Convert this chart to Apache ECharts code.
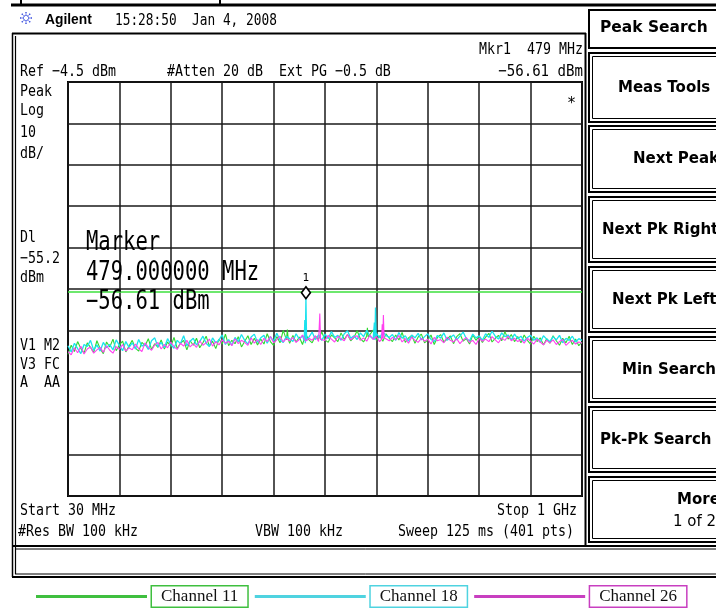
<!DOCTYPE html>
<html><head><meta charset="utf-8">
<script src="https://cdn.jsdelivr.net/npm/echarts/dist/echarts.min.js"></script>
<style>html,body{margin:0;padding:0;background:#fff}#c{width:716px;height:608px}</style>
</head><body><div id="c"></div>
<script>
// ---- sweep settings ----
const startMHz = 30;
const stopMHz = 1000;
const refLevel = -4.5;      // dBm, top graticule line
const dbPerDiv = 10;
const displayLine = -55.2;  // dBm
const markerFreq = 479;     // MHz
const markerLevel = -56.61; // dBm

const seriesNames = ['Channel 11', 'Channel 18', 'Channel 26'];

// ---- noise floor, dBm, evenly spaced from start to stop ----
const noiseCh11 = [
-70.3,-68.1,-69.6,-67.2,-68.9,-70.0,-67.5,-68.6,-69.8,-67.0,
-68.9,-70.1,-67.3,-68.5,-66.6,-69.4,-68.0,-67.1,-69.7,-68.3,
-66.9,-68.8,-69.5,-67.4,-68.2,-66.5,-69.1,-67.7,-68.6,-66.8,
-69.0,-67.3,-68.4,-66.2,-68.9,-67.6,-66.9,-69.2,-67.0,-68.1,
-66.4,-68.7,-67.5,-65.9,-68.3,-67.1,-68.9,-66.6,-67.8,-65.4,
-68.2,-66.9,-67.7,-66.0,-68.5,-67.2,-65.8,-67.9,-66.4,-68.0,
-66.6,-67.8,-65.3,-67.2,-68.1,-66.0,-67.5,-64.5,-66.8,-67.6,
-65.7,-67.3,-66.1,-67.9,-65.4,-66.8,-67.5,-65.9,-66.6,-64.9,
-66.8,-67.4,-65.6,-66.3,-67.2,-65.1,-66.7,-65.5,-67.0,-66.2,
-64.6,-66.5,-67.3,-65.7,-66.1,-64.4,-66.9,-65.8,-67.1,-65.3,
-66.4,-67.2,-65.6,-66.8,-65.0,-67.4,-66.3,-65.7,-67.6,-66.1,
-65.4,-67.5,-66.8,-65.6,-67.9,-66.2,-65.5,-67.3,-66.6,-65.8,
-67.7,-66.0,-65.3,-67.1,-66.5,-67.8,-65.6,-66.9,-65.9,-67.4,
-66.1,-65.2,-67.3,-66.4,-65.7,-67.0,-64.8,-66.6,-65.5,-67.2,
-66.0,-67.5,-65.6,-66.9,-67.8,-65.9,-67.2,-66.3,-68.0,-66.5,
-67.6,-65.8,-67.0,-68.1,-66.4,-67.5,-65.9,-67.9,-66.6,-68.2,
-67.3];
const noiseCh18 = [
-68.2,-69.7,-67.6,-68.9,-70.1,-67.9,-68.4,-66.9,-69.3,-68.0,
-69.5,-67.4,-68.7,-67.9,-69.2,-66.8,-68.1,-69.4,-67.2,-68.6,
-67.5,-69.0,-66.7,-68.3,-67.8,-69.1,-67.0,-66.3,-68.5,-67.4,
-68.7,-66.5,-67.9,-68.8,-66.9,-67.7,-65.8,-68.2,-67.1,-66.4,
-68.0,-67.2,-65.9,-67.6,-68.4,-66.3,-67.5,-66.8,-65.6,-67.9,
-66.7,-68.1,-66.2,-67.3,-65.5,-66.9,-67.8,-66.1,-65.4,-67.4,
-66.3,-65.7,-67.6,-66.0,-67.1,-65.2,-66.8,-67.4,-65.9,-66.5,
-67.2,-65.3,-66.6,-65.8,-67.3,-66.1,-64.9,-66.7,-65.6,-66.9,
-65.4,-66.5,-64.8,-66.2,-65.7,-66.9,-65.3,-64.6,-66.4,-65.8,
-66.7,-65.1,-66.0,-64.5,-65.9,-66.6,-65.2,-66.3,-64.9,-65.7,
-66.2,-65.5,-66.9,-65.0,-66.4,-65.8,-67.1,-65.6,-66.3,-65.2,
-66.8,-66.0,-65.3,-66.7,-67.2,-65.7,-66.4,-65.1,-66.9,-66.2,
-65.6,-66.8,-65.9,-64.9,-66.5,-67.0,-65.4,-66.3,-65.8,-66.9,
-65.3,-66.2,-64.7,-65.9,-66.6,-65.1,-66.0,-65.6,-66.8,-65.4,
-66.5,-65.9,-67.1,-66.2,-65.7,-66.9,-66.3,-67.4,-65.8,-66.6,
-67.2,-66.0,-66.8,-65.7,-67.5,-66.4,-66.9,-65.9,-67.3,-66.5,
-66.9];
const noiseCh26 = [
-69.6,-70.4,-68.7,-69.9,-68.3,-70.2,-69.0,-68.5,-70.0,-69.2,
-68.6,-69.8,-68.2,-69.3,-70.0,-68.4,-69.1,-67.9,-69.5,-68.7,
-69.2,-67.8,-68.9,-69.6,-67.5,-68.6,-69.3,-68.0,-67.4,-69.0,
-67.9,-68.7,-67.3,-68.4,-69.1,-67.6,-68.3,-66.9,-68.5,-67.7,
-68.6,-67.0,-68.1,-67.5,-66.6,-68.3,-67.2,-68.0,-66.8,-67.6,
-67.1,-68.2,-66.5,-67.7,-66.9,-67.4,-68.1,-66.3,-67.6,-66.7,
-67.9,-66.4,-67.2,-66.0,-67.5,-66.8,-65.9,-67.3,-66.5,-67.0,
-66.2,-67.4,-66.7,-65.6,-67.1,-66.4,-66.9,-65.8,-67.2,-66.3,
-66.9,-65.7,-66.6,-67.3,-65.9,-66.5,-67.0,-65.5,-66.8,-66.1,
-65.8,-66.9,-66.3,-67.1,-65.6,-66.7,-66.0,-67.2,-65.9,-66.6,
-67.0,-66.2,-66.8,-65.7,-67.3,-66.5,-67.6,-66.1,-66.9,-67.4,
-66.4,-67.1,-66.6,-67.8,-66.2,-67.0,-66.7,-67.5,-66.1,-66.9,
-67.3,-66.5,-67.7,-66.8,-66.2,-67.4,-66.9,-67.9,-66.4,-67.1,
-66.6,-67.2,-66.0,-66.8,-67.5,-66.3,-66.9,-65.9,-67.0,-66.4,
-67.2,-66.7,-67.6,-66.4,-67.1,-67.8,-66.6,-67.3,-68.0,-66.9,
-67.5,-66.8,-67.9,-67.2,-66.7,-68.1,-67.4,-66.9,-67.8,-67.3,
-67.6];

// ---- narrow spurs, [MHz, dBm] ----
const peaksCh11 = [
  [[442.5,-66.4],[444.0,-64.3],[445.5,-66.6]],
  [[593.5,-65.9],[595.0,-63.9],[596.5,-66.1]]
];
const peaksCh18 = [
  [[475.8,-67.0],[476.9,-62.0],[477.8,-67.6],[479.0,-56.61],[480.3,-67.0]],
  [[606.9,-66.4],[608.2,-62.6],[609.2,-66.8],[610.3,-59.0],[611.6,-66.0]]
];
const peaksCh26 = [
  [[503.8,-67.0],[505.2,-60.4],[506.6,-66.7]],
  [[621.8,-66.6],[623.0,-63.0],[624.0,-66.5],[625.2,-60.8],[626.5,-66.3]]
];

// ---- screen annotations ----
const leftLabels = ['Peak','Log','10','dB/','Dl','−55.2','dBm','V1 M2','V3 FC','A  AA'];
const softkeys = ['Meas Tools','Next Peak','Next Pk Right','Next Pk Left','Min Search','Pk-Pk Search','More'];

// ---- build ----
function buildTrace(noise, groups){
  const step = (stopMHz - startMHz) / (noise.length - 1);
  let pts = noise.map((v, i) => [startMHz + i * step, v]);
  groups.forEach(g => {
    const lo = g[0][0], hi = g[g.length - 1][0];
    pts = pts.filter(p => p[0] < lo || p[0] > hi).concat(g);
  });
  pts.sort((a, b) => a[0] - b[0]);
  return pts.map(p => [p[0] - startMHz, p[1] - refLevel]);
}

const MONO = '"DejaVu Sans Mono", monospace';
const SANS = '"DejaVu Sans", sans-serif';
function txt(x, y, s, o){
  o = o || {};
  return {type:'text', x:x, y:y, scaleX:(o.sx==null?0.83:o.sx), silent:true, z:100,
    style:{text:s, font:(o.bold?'bold ':'') + (o.size||16) + 'px ' + (o.family||MONO),
      fill:o.color||'#000', textAlign:o.align||'left', textVerticalAlign:'middle'}};
}
function ln(x1,y1,x2,y2,w){
  return {type:'line', silent:true, z:90, shape:{x1:x1,y1:y1,x2:x2,y2:y2}, style:{stroke:'#000', lineWidth:w||2}};
}
function rc(x,y,w,h,lw){
  return {type:'rect', silent:true, z:90, shape:{x:x,y:y,width:w,height:h}, style:{fill:'none', stroke:'#000', lineWidth:lw||2}};
}

const g = [];
// outer frames
g.push(ln(11,5,716,5,3), ln(21,0,21,4,2), ln(220,0,220,4,2));
g.push(ln(12,33.5,586,33.5,2), ln(12.5,33,12.5,577,1.5), ln(15.5,36,15.5,574,1.2), ln(585.5,33,585.5,547,2));
g.push(ln(12,546,716,546,2), ln(15,549,716,549,1), ln(15,574,716,574,1), ln(12,577,716,577,2));
// logo
for (let k = 0; k < 8; k++){
  const a = k * Math.PI / 4;
  g.push({type:'line', silent:true, z:90, shape:{x1:26+2*Math.cos(a), y1:18+2*Math.sin(a), x2:26+6*Math.cos(a), y2:18+6*Math.sin(a)},
    style:{stroke:'#3a4fe0', lineWidth:1.4, lineDash:[1.5,1]}});
}
g.push(txt(45, 19.5, 'Agilent', {bold:true, size:15, family:'"Liberation Sans", Arial, sans-serif', sx:0.92}));
g.push(txt(115, 20.5, '15:28:50  Jan 4, 2008', {sx:0.8}));
// header lines
g.push(txt(583, 50, 'Mkr1  479 MHz', {align:'right'}));
g.push(txt(20, 72, 'Ref −4.5 dBm'));
g.push(txt(167, 72, '#Atten 20 dB  Ext PG −0.5 dB'));
g.push(txt(583, 72, '−56.61 dBm', {align:'right', sx:0.88}));
// left panel
const leftY = [92,111,133,154,238,259,278,346,365,383];
leftLabels.forEach((s, i) => g.push(txt(20, leftY[i], s)));
g.push(txt(567, 104, '*', {sx:1, size:15}));
// marker readout
g.push(txt(86, 243, 'Marker', {size:26, sx:0.79}));
g.push(txt(86, 273, '479.000000 MHz', {size:26, sx:0.79}));
g.push(txt(86, 302, '−56.61 dBm', {size:26, sx:0.79}));
// footer
g.push(txt(20, 511, 'Start 30 MHz'));
g.push(txt(577, 511, 'Stop 1 GHz', {align:'right'}));
g.push(txt(18, 532, '#Res BW 100 kHz'));
g.push(txt(255, 532, 'VBW 100 kHz'));
g.push(txt(574, 532, 'Sweep 125 ms (401 pts)', {align:'right'}));
// softkeys
g.push(rc(589,10,140,38,2));
g.push(txt(600, 28.5, 'Peak Search', {bold:true, size:15, family:SANS, sx:1.03}));
const skTop = [53,126,197,267,337,407,477];
const skBot = [122,192,262,332,402,472,542];
const skX = [618,633,602,612,622,600,677];
skTop.forEach((t, i) => {
  const h = skBot[i] - t;
  g.push(rc(589, t, 140, h, 2), rc(592.5, t + 3.5, 140, h - 7, 1));
  const cy = i === 6 ? 500 : (t + skBot[i]) / 2 + 0.5;
  g.push(txt(skX[i], cy, softkeys[i], {bold:true, size:15, family:SANS, sx:1}));
});
g.push(txt(673, 522, '1 of 2', {size:15, family:SANS, sx:1}));

const chart = echarts.init(document.getElementById('c'), null, {renderer:'canvas'});
chart.setOption({
  animation:false,
  backgroundColor:'#fff',
  grid:{left:68, top:82, width:514, height:414, show:true, borderColor:'#000', borderWidth:2, backgroundColor:'transparent'},
  xAxis:{type:'value', min:0, max:stopMHz - startMHz, interval:(stopMHz - startMHz) / 10,
    axisLine:{show:false}, axisTick:{show:false}, axisLabel:{show:false},
    splitLine:{show:true, lineStyle:{color:'#1a1a1a', width:1.5}}},
  yAxis:{type:'value', min:-10 * dbPerDiv, max:0, interval:dbPerDiv,
    axisLine:{show:false}, axisTick:{show:false}, axisLabel:{show:false},
    splitLine:{show:true, lineStyle:{color:'#1a1a1a', width:1.5}}},
  legend:{left:36, top:585, padding:0, itemWidth:111, itemHeight:3, itemGap:6, icon:'rect',
    data:[
      {name:seriesNames[0], textStyle:{borderColor:'#3fbf3f'}},
      {name:seriesNames[1], textStyle:{borderColor:'#4fd3e0'}},
      {name:seriesNames[2], textStyle:{borderColor:'#c83fc0'}}
    ],
    textStyle:{fontFamily:'"Liberation Serif", serif', fontSize:17, color:'#111', borderWidth:1.5,
      padding:[2,9,1,9], backgroundColor:'#fff'}},
  graphic:{elements:g},
  series:[
    {name:seriesNames[0], type:'line', data:buildTrace(noiseCh11, peaksCh11), showSymbol:false, symbol:'none',
      lineStyle:{width:1.1, color:'#2fd82f'}, itemStyle:{color:'#3fbf3f'}, z:2,
      markLine:{silent:true, symbol:'none', label:{show:false}, lineStyle:{color:'#3ee03e', width:1.6, type:'solid'},
        data:[{yAxis: displayLine - refLevel}]}},
    {name:seriesNames[1], type:'line', data:buildTrace(noiseCh18, peaksCh18), showSymbol:false, symbol:'none',
      lineStyle:{width:1.3, color:'#1ae2ee'}, itemStyle:{color:'#4fd3e0'}, z:3,
      markPoint:{silent:true, data:[{coord:[markerFreq - startMHz, markerLevel - refLevel], symbol:'diamond',
        symbolSize:[9,12], symbolOffset:[0,-5], itemStyle:{color:'#fff', borderColor:'#000', borderWidth:1.6},
        label:{show:true, position:'top', distance:2, formatter:'1', color:'#000', fontSize:11, fontFamily:MONO}}]}},
    {name:seriesNames[2], type:'line', data:buildTrace(noiseCh26, peaksCh26), showSymbol:false, symbol:'none',
      lineStyle:{width:1.1, color:'#ff40f0'}, itemStyle:{color:'#c83fc0'}, z:4}
  ]
});
</script></body></html>
